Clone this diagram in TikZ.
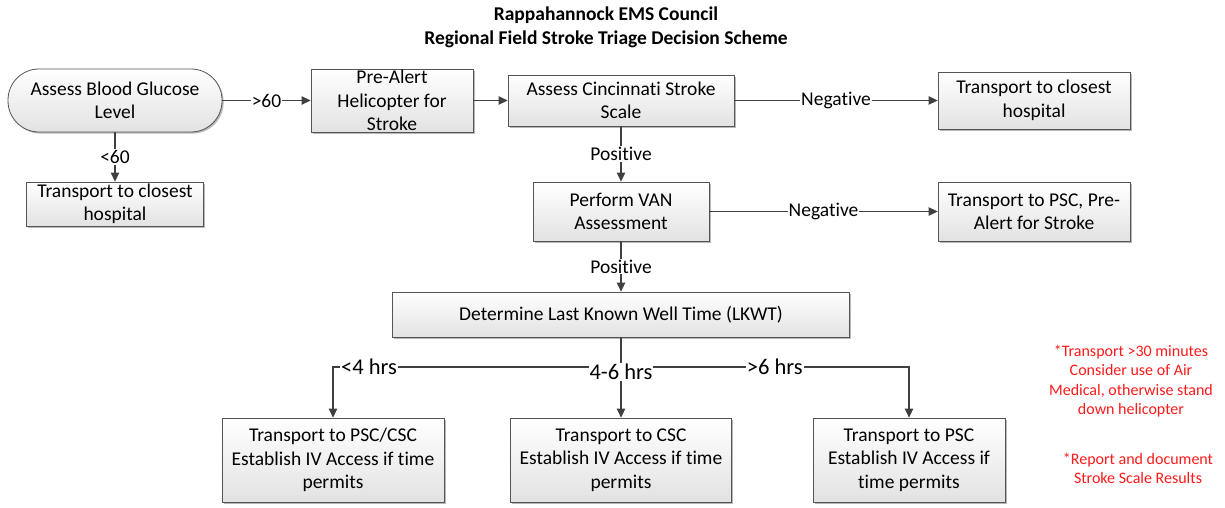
\documentclass[tikz,border=0pt]{standalone}
\usepackage{fontspec}
\setmainfont{Carlito}[Ligatures={NoCommon,NoContextual}]
\usetikzlibrary{arrows.meta,shadows}

\definecolor{edge}{HTML}{404040}
\definecolor{boxline}{HTML}{555555}
\definecolor{boxlow}{HTML}{E2E2E2}
\definecolor{notered}{HTML}{FF1A1A}

\tikzset{
  box/.style={draw=boxline, line width=0.8pt, top color=white, bottom color=boxlow,
    align=center, inner sep=0pt, text=black,
    font=\fontsize{19.5}{23.5}\selectfont,
    drop shadow={shadow xshift=1.6pt, shadow yshift=-1.6pt, fill=black!28, opacity=1}},
  term/.style={box, rounded corners=31pt},
  conn/.style={draw=edge, line width=1.2pt, -{Triangle[length=9pt,width=8.5pt]}},
  lbl/.style={fill=white, inner sep=1pt, text=black, font=\fontsize{19.5}{23.5}\selectfont},
  hrslbl/.style={fill=white, inner sep=1pt, text=black, font=\fontsize{22.5}{26}\selectfont},
  title/.style={align=center, font=\bfseries\fontsize{19.5}{24.5}\selectfont},
  note/.style={align=center, text=notered, font=\fontsize{16}{19.5}\selectfont}
}

\begin{document}
\begin{tikzpicture}[x=1pt, y=-1pt]
\useasboundingbox (0,0) rectangle (1225,508);

% heading
\node[title] (head) at (606,27.5) {Rappahannock EMS Council\\Regional Field Stroke Triage Decision Scheme};

% steps of the scheme
\node[term, minimum width=214pt, minimum height=63pt] (gluc) at (115,100.5) {Assess Blood Glucose\\Level};
\node[box, minimum width=162pt, minimum height=63pt] (heli) at (392,100.5) {Pre-Alert\\Helicopter for\\Stroke};
\node[box, minimum width=226pt, minimum height=51pt] (cinc) at (621,100.5) {Assess Cincinnati Stroke\\Scale};
\node[box, minimum width=192pt, minimum height=57pt] (closeA) at (1034,100.5) {Transport to closest\\hospital};
\node[box, minimum width=177pt, minimum height=44pt] (closeB) at (115,204) {Transport to closest\\hospital};
\node[box, minimum width=176pt, minimum height=59pt] (van) at (621,211.5) {Perform VAN\\Assessment};
\node[box, minimum width=192pt, minimum height=59pt] (pscA) at (1034,211.5) {Transport to PSC, Pre-\\Alert for Stroke};
\node[box, minimum width=457pt, minimum height=45pt] (lkwt) at (621,314.5) {Determine Last Known Well Time (LKWT)};
\node[box, minimum width=222pt, minimum height=84pt] (early) at (333,460) {Transport to PSC/CSC\\Establish IV Access if time\\permits};
\node[box, minimum width=221pt, minimum height=84pt] (mid) at (621,460) {Transport to CSC\\Establish IV Access if time\\permits};
\node[box, minimum width=192pt, minimum height=84pt] (late) at (909,460) {Transport to PSC\\Establish IV Access if\\time permits};

% decisions
\draw[conn] (gluc) -- node[lbl] {>60} (heli);
\draw[conn] (gluc) -- node[lbl, pos=0.5] {<60} (closeB);
\draw[conn] (heli) -- (cinc);
\draw[conn] (cinc) -- node[lbl] {Negative} (closeA);
\draw[conn] (cinc) -- node[lbl] {Positive} (van);
\draw[conn] (van) -- node[lbl] {Negative} (pscA);
\draw[conn] (van) -- node[lbl] {Positive} (lkwt);

% time since last known well
\coordinate (split) at (621,367);
\draw[conn] (split) -| node[hrslbl, pos=0.4375] {<4 hrs} (early.north);
\draw[conn] (split) -| node[hrslbl, pos=0.267] {>6 hrs} (late.north);
\draw[conn] (lkwt.south) -- node[hrslbl, pos=0.43] {4-6 hrs} (mid.north);

% side notes
\node[note] (noteAir) at (1131,381) {*Transport >30 minutes\\Consider use of Air\\Medical, otherwise stand\\down helicopter};
\node[note] (noteScale) at (1138,468.5) {*Report and document\\Stroke Scale Results};
\end{tikzpicture}
\end{document}
